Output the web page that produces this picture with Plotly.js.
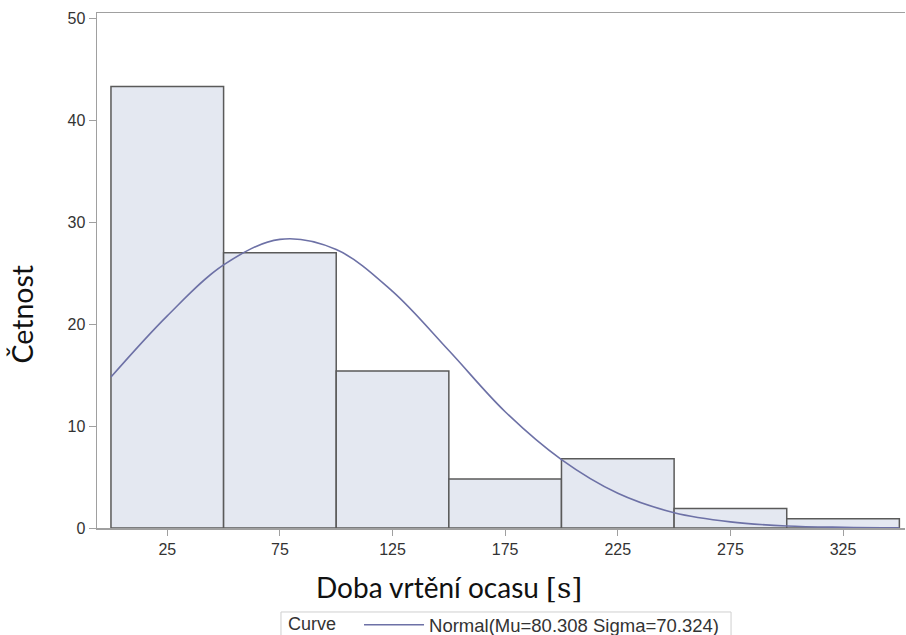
<!DOCTYPE html>
<html>
<head>
<meta charset="utf-8">
<script src="https://cdn.plot.ly/plotly-3.0.1.min.js"></script>
<style>html,body{margin:0;padding:0;background:#fff;}#chart{width:906px;height:635px;}</style>
</head>
<body>
<div id="chart"></div>
<script>
// Histogram bins (midpoints) and percentages
const binCenters = [25, 75, 125, 175, 225, 275, 325];
const binPercent = [43.3, 27.0, 15.4, 4.8, 6.8, 1.9, 0.9];

// Fitted normal curve points
const curveX = [0, 25, 50, 75, 100, 125, 150, 175, 200, 225, 250, 275, 300, 325, 350];
const curveY = [14.8, 20.8, 25.8, 28.3, 27.3, 23.2, 17.4, 11.4, 6.7, 3.4, 1.5, 0.6, 0.2, 0.07, 0.02];

const curveName = 'Normal(Mu=80.308 Sigma=70.324)';
const xTicks = [25, 75, 125, 175, 225, 275, 325];
const yTicks = [0, 10, 20, 30, 40, 50];
const xTitle = 'Doba vrtění ocasu <span style="font-family:DejaVu Serif">[s]</span>';
const yTitle = 'Četnost';

const traces = [
  {
    type: 'bar', x: binCenters, y: binPercent, width: 50,
    marker: {color: '#e4e8f1', line: {color: '#5a5a5a', width: 1.5}},
    showlegend: false, hoverinfo: 'x+y'
  },
  {
    type: 'scatter', mode: 'lines', x: curveX, y: curveY, name: curveName,
    line: {color: '#6d71a6', width: 1.6, shape: 'spline', smoothing: 1}
  }
];

const titleFont = {family: 'Lato, sans-serif', size: 28, color: '#111'};

const layout = {
  width: 906, height: 635,
  margin: {l: 97, r: 1, t: 13, b: 107, autoexpand: false},
  paper_bgcolor: '#fff', plot_bgcolor: '#fff',
  font: {family: 'Liberation Sans, Arial, sans-serif', size: 16, color: '#333'},
  bargap: 0,
  xaxis: {
    range: [-6.2, 352.5], tickvals: xTicks, ticktext: xTicks.map(String),
    showgrid: false, zeroline: false, showline: true, linecolor: '#a0a0a0', linewidth: 1.5,
    mirror: true, ticks: 'outside', ticklen: 6, tickcolor: '#a0a0a0', tickwidth: 1,
    tickfont: {size: 16, color: '#333'}
  },
  yaxis: {
    range: [0, 50.5], tickvals: yTicks,
    showgrid: false, zeroline: false, showline: true, linecolor: '#a0a0a0', linewidth: 1.5,
    ticks: 'outside', ticklen: 7, tickcolor: '#a0a0a0', tickwidth: 1,
    tickfont: {size: 16, color: '#333'}
  },
  annotations: [
    {text: xTitle, xref: 'paper', yref: 'paper', x: 0.4356, y: -0.1165,
     xanchor: 'center', yanchor: 'middle', showarrow: false, font: titleFont},
    {text: yTitle, xref: 'paper', yref: 'paper', x: -0.0928, y: 0.4146, textangle: -90,
     xanchor: 'center', yanchor: 'middle', showarrow: false,
     font: {family: 'Lato, sans-serif', size: 28.5, color: '#111'}}
  ],
  shapes: [
    {type: 'rect', xref: 'paper', yref: 'paper', x0: 0.2277, x1: 0.7847, y0: -0.1631, y1: -0.26,
     line: {color: '#cfcfcf', width: 1}, fillcolor: 'rgba(0,0,0,0)', layer: 'below'}
  ],
  legend: {
    orientation: 'h', x: 0.2339, xanchor: 'left', y: -0.152, yanchor: 'top',
    borderwidth: 0, bgcolor: 'rgba(0,0,0,0)', itemwidth: 60,
    font: {size: 18.5, color: '#333'},
    title: {text: 'Curve   ', side: 'left', font: {size: 18, color: '#333'}}
  }
};

Plotly.newPlot('chart', traces, layout, {displayModeBar: false, staticPlot: true});
</script>
</body>
</html>
